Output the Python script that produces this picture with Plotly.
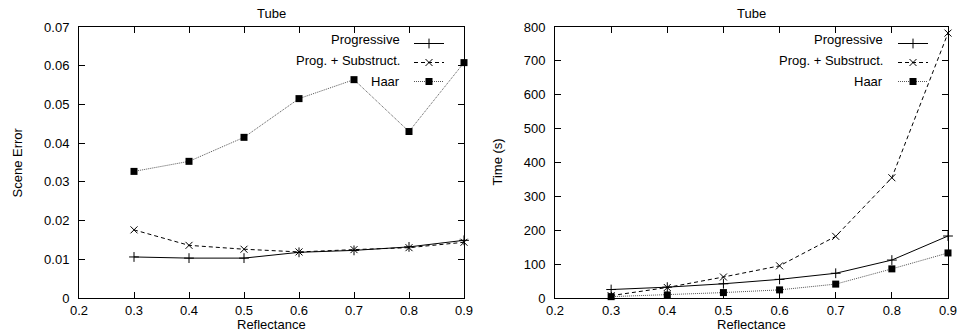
import plotly.graph_objects as go

reflectance = [0.3, 0.4, 0.5, 0.6, 0.7, 0.8, 0.9]

err_progressive = [0.0106, 0.0103, 0.0103, 0.0118, 0.0123, 0.0132, 0.0149]
err_prog_sub = [0.0176, 0.0136, 0.0126, 0.0119, 0.0125, 0.0130, 0.0144]
err_haar = [0.0327, 0.0353, 0.0415, 0.0515, 0.0564, 0.0430, 0.0608]

time_progressive = [25, 32, 42, 55, 73, 112, 183]
time_prog_sub = [7, 31, 62, 95, 182, 355, 782]
time_haar = [4, 9, 16, 24, 41, 86, 133]

series_names = ["Progressive", "Prog. + Substruct.", "Haar"]
x_ticks = [0.2, 0.3, 0.4, 0.5, 0.6, 0.7, 0.8, 0.9]

FONT = "Liberation Sans, Arial, Helvetica, sans-serif"
FS = 13

styles = [
    dict(line=dict(color="black", width=1, dash="solid"),
         marker=dict(symbol="cross-thin-open", size=7, color="black", line=dict(color="black", width=1))),
    dict(line=dict(color="black", width=1, dash="4px,3px"),
         marker=dict(symbol="x-thin-open", size=7, color="black", line=dict(color="black", width=1))),
    dict(line=dict(color="#555555", width=1, dash="1px,1px"),
         marker=dict(symbol="square", size=7, color="black", line=dict(color="black", width=0))),
]

fig = go.Figure()

left = [err_progressive, err_prog_sub, err_haar]
right = [time_progressive, time_prog_sub, time_haar]

for i, (name, ys) in enumerate(zip(series_names, left)):
    fig.add_trace(go.Scatter(x=reflectance, y=ys, name=" ", mode="lines+markers",
                             xaxis="x", yaxis="y", legend="legend", cliponaxis=False,
                             hovertext=name, **styles[i]))
for i, (name, ys) in enumerate(zip(series_names, right)):
    fig.add_trace(go.Scatter(x=reflectance, y=ys, name=" ", mode="lines+markers",
                             xaxis="x2", yaxis="y2", legend="legend2", cliponaxis=False,
                             hovertext=name, **styles[i]))

ydom = [1 - 298 / 332, 1 - 27 / 332]
xdom1 = [79 / 959, 464 / 959]
xdom2 = [555 / 959, 948 / 959]

axis_common = dict(showline=True, mirror="allticks", linecolor="black", linewidth=1,
                   ticks="inside", ticklen=6, tickcolor="black", tickwidth=1,
                   showgrid=False, zeroline=False, automargin=False,
                   tickfont=dict(family=FONT, size=FS, color="black"))

fig.update_layout(
    template="none",
    width=959, height=332,
    margin=dict(l=0, r=0, t=0, b=0, autoexpand=False),
    paper_bgcolor="white", plot_bgcolor="white",
    font=dict(family=FONT, size=FS, color="black"),
    showlegend=True,
    xaxis=dict(domain=xdom1, range=[0.2, 0.9], tickvals=x_ticks, ticktext=[f"{v:.1f}" for v in x_ticks],
               anchor="y", ticklabelstandoff=0, **axis_common),
    yaxis=dict(domain=ydom, range=[0, 0.07], dtick=0.01, tick0=0, anchor="x",
               ticklabelstandoff=6, **axis_common),
    xaxis2=dict(domain=xdom2, range=[0.2, 0.9], tickvals=x_ticks, ticktext=[f"{v:.1f}" for v in x_ticks],
                anchor="y2", ticklabelstandoff=0, **axis_common),
    yaxis2=dict(domain=ydom, range=[0, 800], dtick=100, tick0=0, anchor="x2",
                ticklabelstandoff=6, **axis_common),
    legend=dict(x=457 / 959, y=1 - 29 / 332, xanchor="right", yanchor="top",
                bgcolor="rgba(0,0,0,0)", borderwidth=0, itemwidth=30, font=dict(size=8), tracegroupgap=0),
    legend2=dict(x=941 / 959, y=1 - 29 / 332, xanchor="right", yanchor="top",
                 bgcolor="rgba(0,0,0,0)", borderwidth=0, itemwidth=30, font=dict(size=8), tracegroupgap=0),
)

ann = []
for cx in [(xdom1[0] + xdom1[1]) / 2, (xdom2[0] + xdom2[1]) / 2]:
    ann.append(dict(text="Tube", x=cx, y=1 - 13 / 332, xref="paper", yref="paper",
                    showarrow=False, xanchor="center", yanchor="middle", font=dict(size=FS)))
    ann.append(dict(text="Reflectance", x=cx, y=-2 / 332, xref="paper", yref="paper",
                    showarrow=False, xanchor="center", yanchor="bottom", font=dict(size=FS)))
ann.append(dict(text="Scene Error", x=17 / 959, y=(ydom[0] + ydom[1]) / 2, xref="paper", yref="paper",
                showarrow=False, textangle=-90, xanchor="center", yanchor="middle", font=dict(size=FS)))
ann.append(dict(text="Time (s)", x=497 / 959, y=(ydom[0] + ydom[1]) / 2, xref="paper", yref="paper",
                showarrow=False, textangle=-90, xanchor="center", yanchor="middle", font=dict(size=FS)))

# legend labels (text to the left of the samples, gnuplot-style)
for xr in [402 / 959, 885 / 959]:
    for k, name in enumerate(series_names):
        ann.append(dict(text=name, x=xr, y=1 - (40 + 20.5 * k) / 332, xref="paper", yref="paper",
                        showarrow=False, xanchor="right", yanchor="middle", font=dict(size=FS)))

fig.update_layout(annotations=ann)

fig.write_html("out.html", config={"displayModeBar": False},
               post_script="document.body.style.margin='0';document.body.style.overflow='hidden';")
